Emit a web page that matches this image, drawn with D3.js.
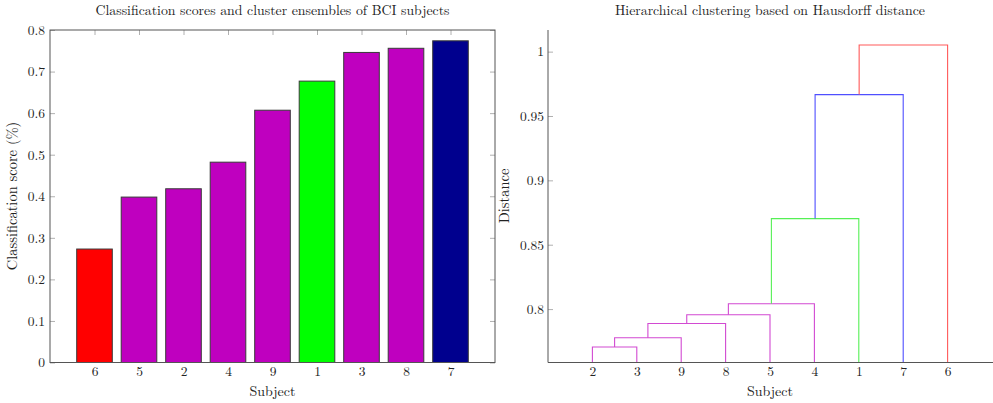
<!DOCTYPE html>
<html>
<head>
<meta charset="utf-8">
<script src="https://cdn.jsdelivr.net/npm/d3@7/dist/d3.min.js"></script>
<style>
    body { margin: 0; background: #fff; }
    svg text { font-family: "Latin Modern Roman", "CMU Serif", "Liberation Serif", serif; fill: #222; }
</style>
</head>
<body>
<div id="chart"></div>
<script>
'use strict'
// bar chart: classification score per subject
var barSubjects = ["6", "5", "2", "4", "9", "1", "3", "8", "7"];
var barScores = [0.273, 0.398, 0.418, 0.482, 0.607, 0.677, 0.746, 0.756, 0.774];
var barGroups = ["red", "magenta", "magenta", "magenta", "magenta", "green", "magenta", "magenta", "navy"];
var scoreTicks = [0, 0.1, 0.2, 0.3, 0.4, 0.5, 0.6, 0.7, 0.8];

// dendrogram: leaf order, merges (scipy style, index >= 9 means earlier merge), heights
var leafSubjects = ["2", "3", "9", "8", "5", "4", "1", "7", "6"];
var mergePairs = [[0, 1], [9, 2], [10, 3], [11, 4], [12, 5], [13, 6], [14, 7], [15, 8]];
var mergeHeights = [0.7705, 0.7777, 0.7888, 0.7956, 0.8041, 0.8703, 0.9666, 1.0052];
var mergeGroups = ["magenta", "magenta", "magenta", "magenta", "magenta", "green", "blue", "red"];
var distanceTicks = [0.8, 0.85, 0.9, 0.95, 1];

var chart = (function(){
    var self = {},
    _svg,
    barColors = { red: "#ff0000", magenta: "#bf00bf", green: "#00ff00", navy: "#00008e" },
    lineColors = { red: "#ff5a5a", magenta: "#d24ad2", green: "#55f055", blue: "#4f4fff" },

    addSVGToDOM = function(placeHolder){
        _svg = d3.select(placeHolder)
                .append("svg")
                .attr("width", 993)
                .attr("height", 403);
    },

    //left panel with the bars
    drawBars = function(){
        var x = d3.scaleLinear().domain([0, 10]).range([50, 495]),
            y = d3.scaleLinear().domain([0, 0.8]).range([362.5, 30]),
            barWidth = (x(1) - x(0)) * 0.8,
            g = _svg.append("g").attr("id", "bars");

        // inward ticks, all four sides
        g.append("g").attr("transform", "translate(50,0)")
            .call(d3.axisRight(y).tickValues(scoreTicks).tickSize(5).tickFormat(""));
        g.append("g").attr("transform", "translate(495,0)")
            .call(d3.axisLeft(y).tickValues(scoreTicks).tickSize(5).tickFormat(""));
        g.append("g").attr("transform", "translate(0,30)")
            .call(d3.axisBottom(x).tickValues(d3.range(1, 10)).tickSize(5).tickFormat(""));
        g.selectAll(".domain").remove();
        g.selectAll(".tick line").attr("stroke", "#b0b0b0");

        g.selectAll("rect.bar")
            .data(barScores)
            .enter()
            .append("rect")
            .attr("class", "bar")
            .attr("x", function(d, i) { return x(i + 1) - barWidth / 2; })
            .attr("y", function(d) { return y(d); })
            .attr("width", barWidth)
            .attr("height", function(d) { return y(0) - y(d); })
            .attr("fill", function(d, i) { return barColors[barGroups[i]]; })
            .attr("stroke", "#3a3a3a")
            .attr("stroke-width", 1);

        g.append("rect")
            .attr("x", 50).attr("y", 30)
            .attr("width", 445).attr("height", 332.5)
            .attr("fill", "none")
            .attr("stroke", "#555")
            .attr("stroke-width", 1);

        var yLabels = g.append("g").attr("transform", "translate(50,0)")
            .call(d3.axisLeft(y).tickValues(scoreTicks).tickSize(0).tickPadding(5)
                .tickFormat(function(d) { return d === 0 ? "0" : d3.format(".1f")(d); }));
        yLabels.select(".domain").remove();

        var xLabels = g.append("g").attr("transform", "translate(0,362.5)")
            .call(d3.axisBottom(x).tickValues(d3.range(1, 10)).tickSize(0).tickPadding(4)
                .tickFormat(function(d) { return barSubjects[d - 1]; }));
        xLabels.select(".domain").remove();

        g.selectAll(".tick text").attr("font-size", "13.5px").attr("fill", "#222")
            .attr("font-family", null);

        addText({ x: 272.5, y: 15, text: "Classification scores and cluster ensembles of BCI subjects",
                  size: "13.5px", length: 354 });
        addText({ x: 272.5, y: 396, text: "Subject", size: "14px" });
        addText({ x: 0, y: 0, text: "Classification score (%)", size: "14.5px",
                  transform: "translate(17,196) rotate(-90)" });
    },

    //right panel with the dendrogram
    drawDendrogram = function(){
        var x = d3.scaleLinear().domain([0, 10]).range([548, 992]),
            y = d3.scaleLinear().domain([0.7585, 1.0168]).range([362.5, 30]),
            g = _svg.append("g").attr("id", "dendrogram"),
            nodes = [];

        leafSubjects.forEach(function(s, i) {
            nodes.push({ x: x(i + 1), h: y.domain()[0] });
        });

        mergePairs.forEach(function(pair, i) {
            var a = nodes[pair[0]], b = nodes[pair[1]], h = mergeHeights[i];
            g.append("path")
                .attr("d", "M" + a.x + "," + y(a.h) + "V" + y(h) + "H" + b.x + "V" + y(b.h))
                .attr("fill", "none")
                .attr("stroke", lineColors[mergeGroups[i]])
                .attr("stroke-width", 1.1);
            nodes.push({ x: (a.x + b.x) / 2, h: h });
        });

        var yAxis = g.append("g").attr("transform", "translate(548,0)")
            .call(d3.axisRight(y).tickValues(distanceTicks).tickSize(5).tickFormat(""));
        yAxis.select(".domain").remove();
        yAxis.selectAll(".tick line").attr("stroke", "#b0b0b0");

        var yLabels = g.append("g").attr("transform", "translate(548,0)")
            .call(d3.axisLeft(y).tickValues(distanceTicks).tickSize(0).tickPadding(4)
                .tickFormat(function(d) { return d === 1 ? "1" : String(d); }));
        yLabels.select(".domain").remove();

        var xLabels = g.append("g").attr("transform", "translate(0,362.5)")
            .call(d3.axisBottom(x).tickValues(d3.range(1, 10)).tickSize(0).tickPadding(4)
                .tickFormat(function(d) { return leafSubjects[d - 1]; }));
        xLabels.select(".domain").remove();

        g.selectAll(".tick text").attr("font-size", "13.5px").attr("fill", "#222")
            .attr("font-family", null);

        g.append("line")
            .attr("x1", 548).attr("y1", 30).attr("x2", 548).attr("y2", 362.5)
            .attr("stroke", "#555");
        g.append("line")
            .attr("x1", 548).attr("y1", 362.5).attr("x2", 993).attr("y2", 362.5)
            .attr("stroke", "#555");

        addText({ x: 770, y: 15, text: "Hierarchical clustering based on Hausdorff distance",
                  size: "13.5px", length: 310 });
        addText({ x: 770, y: 396, text: "Subject", size: "14px" });
        addText({ x: 0, y: 0, text: "Distance", size: "14.5px",
                  transform: "translate(509,196) rotate(-90)" });
    },

    addText = function(params){
        var t = _svg.append("text")
            .attr("x", params.x)
            .attr("y", params.y)
            .attr("text-anchor", "middle")
            .attr("font-size", params.size)
            .attr("transform", params.transform || null)
            .text(params.text);
        if (params.length) {
            t.attr("textLength", params.length).attr("lengthAdjust", "spacingAndGlyphs");
        }
    };

    self.init = function(placeHolder){
        addSVGToDOM(placeHolder);
        drawBars();
        drawDendrogram();
    };

    return self;
}());

chart.init("#chart");
</script>
</body>
</html>
